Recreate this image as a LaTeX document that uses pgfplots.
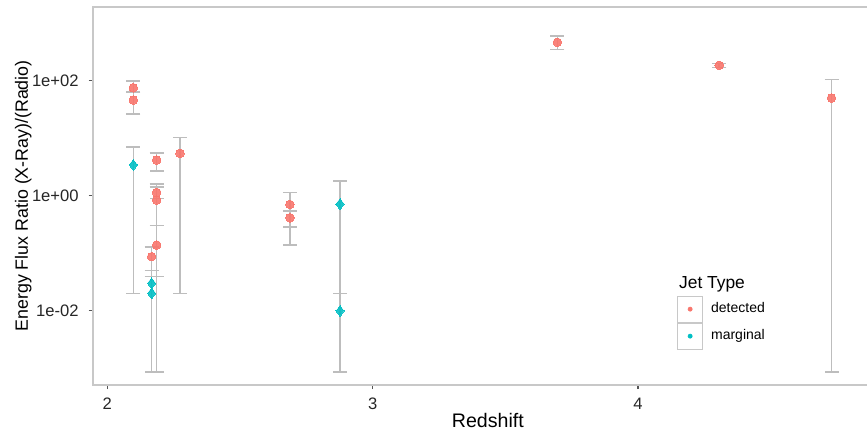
\documentclass[border=0pt]{standalone}
\usepackage{fontspec}
\setmainfont{Liberation Sans}
\usepackage{pgfplots}
\usepackage{pgfplotstable}
\pgfplotsset{compat=1.18}
\definecolor{ggred}{HTML}{F8766D}
\definecolor{ggteal}{HTML}{00BFC4}
\definecolor{ebgray}{HTML}{BDBDBD}
\definecolor{framegray}{HTML}{C8C8C8}
\definecolor{tickgray}{HTML}{555555}

\pgfplotstableread{
x y ep em
2.098 74.4 23.6 11.4
2.098 45.5 17.5 19.5
2.186 4.13 1.37 1.47
2.186 1.13 0.45 0.24
2.186 0.835 0.585 0.83413
2.186 0.138 0.162 0.099
2.167 0.0867 0.0423 0.0371
2.274 5.4 4.8 5.38
2.688 0.70 0.43 0.413
2.688 0.41 0.13 0.272
3.696 457 133 112
4.306 182 15 14
4.729 49.3 54.7 49.29913
}\detected

\pgfplotstableread{
x y ep em
2.098 3.39 3.51 3.37
2.167 0.0299 0.0201 0.02903
2.167 0.020 0.019 0.01913
2.877 0.71 1.09 0.69
2.877 0.0099 0.0099 0.00903
}\marginal

\begin{document}
\begin{tikzpicture}
\begin{axis}[
  at={(0,0)}, anchor=south west,
  scale only axis,
  width=395.15pt, height=189.15pt,
  ymode=log,
  xmin=1.945, xmax=4.923,
  ymin=5.13e-4, ymax=1897,
  axis line style={framegray, line width=0.8pt},
  xtick={2,3,4}, xticklabels={2,3,4},
  ytick={0.01,1,100}, yticklabels={1e-02,1e+00,1e+02},
  minor tick num=0, yminorticks=false,
  tick align=outside, major tick length=2pt,
  tick style={tickgray, line width=0.6pt},
  xtick pos=bottom, ytick pos=left,
  ticklabel style={font=\fontsize{8.3}{9}\selectfont, text=black!85},
  xticklabel style={yshift=-1pt},
  yticklabel style={xshift=-1.5pt},
  xlabel={Redshift},
  ylabel={Energy Flux Ratio (X-Ray)/(Radio)},
  xlabel style={font=\fontsize{9.8}{11}\selectfont, at={(axis description cs:0.5,-0.0944)}, anchor=center},
  ylabel style={font=\fontsize{8.9}{10}\selectfont, at={(axis description cs:-0.0878,0.5)}, anchor=center},
  legend style={draw=none, fill=none, at={(axis description cs:0.739,0.298)}, anchor=north west,
    font=\fontsize{7}{8}\selectfont, row sep=0pt, column sep=2pt, inner sep=0pt,
    cells={anchor=west}},
]
% points
\addplot[forget plot, only marks, color=ggred, mark=*, mark size=2.15pt, mark options={draw=ggred, fill=ggred, line width=0pt, opacity=0.9}]
  table[x=x,y=y] {\detected};
\addplot[forget plot, only marks, color=ggteal, mark=diamond*, mark size=2.7pt, mark options={draw=ggteal, fill=ggteal, line width=0pt, opacity=0.9}]
  table[x=x,y=y] {\marginal};
% error bars
\addplot[forget plot, draw=none, mark=none,
  error bars/.cd, y dir=both, y explicit,
  error bar style={draw=ebgray, line width=0.8pt},
  error mark options={rotate=90, draw=ebgray, mark size=3.5pt, line width=0.8pt}]
  table[x=x,y=y,y error plus=ep,y error minus=em] {\detected};
\addplot[forget plot, draw=none, mark=none,
  error bars/.cd, y dir=both, y explicit,
  error bar style={draw=ebgray, line width=0.8pt},
  error mark options={rotate=90, draw=ebgray, mark size=3.5pt, line width=0.8pt}]
  table[x=x,y=y,y error plus=ep,y error minus=em] {\marginal};
% legend
\addlegendimage{empty legend}
\addlegendentry{\hspace{-16pt}\fontsize{8.7}{10}\selectfont Jet Type}
\addlegendimage{legend image code/.code={
  \draw[framegray, line width=0.5pt] (0pt,-6.5pt) rectangle (12.5pt,6.5pt);
  \fill[ggred] (6.25pt,0pt) circle (1pt);}}
\addlegendentry{detected}
\addlegendimage{legend image code/.code={
  \draw[framegray, line width=0.5pt] (0pt,-6.5pt) rectangle (12.5pt,6.5pt);
  \fill[ggteal] (6.25pt,0pt) circle (1pt);}}
\addlegendentry{marginal}
\end{axis}
\pgfresetboundingbox
\path[use as bounding box] (-46.35pt,-24pt) rectangle (387.15pt,192.5pt);
\end{tikzpicture}
\end{document}
